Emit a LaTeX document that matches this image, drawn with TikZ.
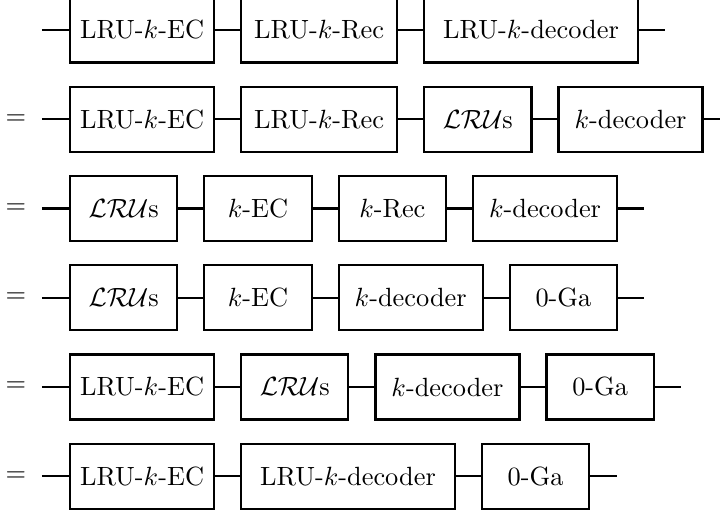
\documentclass[tikz,border=0pt]{standalone}
\usepackage{amsmath,amssymb}
\usepackage{tikz}
\usetikzlibrary{positioning}
\tikzset{
  blk/.style={draw,thick,minimum height=0.867cm,inner sep=0pt},
  wS/.style={blk,minimum width=1.43cm},
  wM/.style={blk,minimum width=1.92cm},
  wR/.style={blk,minimum width=2.08cm},
  wL/.style={blk,minimum width=2.85cm},
  wire/.style={thick}
}
\newcommand{\LRUs}{$\mathcal{LRU}$s}

\begin{document}
\begin{tikzpicture}[node distance=0.333cm]
    \useasboundingbox (0,0) rectangle (9.6,-6.827);

    % equality signs in front of rows 2..6
    \foreach \i in {2,...,6}{
      \node (eq\i) at (0.21,{-0.4-1.19*(\i-1)}) {$=$};
    }

    % row 1
    \coordinate (r1s) at (0.56,-0.4);
    \node[wM,right=0.36cm of r1s] (r1a) {LRU-$k$-EC};
    \node[wR,right=of r1a] (r1b) {LRU-$k$-Rec};
    \node[wL,right=of r1b] (r1c) {LRU-$k$-decoder};
    \coordinate[right=0.35cm of r1c] (r1e);
    \draw[wire] (r1s) -- (r1a) -- (r1b) -- (r1c) -- (r1e);

    % row 2
    \coordinate (r2s) at (0.56,-1.59);
    \node[wM,right=0.36cm of r2s] (r2a) {LRU-$k$-EC};
    \node[wR,right=of r2a] (r2b) {LRU-$k$-Rec};
    \node[wS,right=of r2b] (r2c) {\LRUs};
    \node[wM,right=of r2c] (r2d) {$k$-decoder};
    \coordinate[right=0.35cm of r2d] (r2e);
    \draw[wire] (r2s) -- (r2a) -- (r2b) -- (r2c) -- (r2d) -- (r2e);

    % row 3
    \coordinate (r3s) at (0.56,-2.78);
    \node[wS,right=0.36cm of r3s] (r3a) {\LRUs};
    \node[wS,right=of r3a] (r3b) {$k$-EC};
    \node[wS,right=of r3b] (r3c) {$k$-Rec};
    \node[wM,right=of r3c] (r3d) {$k$-decoder};
    \coordinate[right=0.35cm of r3d] (r3e);
    \draw[wire] (r3s) -- (r3a) -- (r3b) -- (r3c) -- (r3d) -- (r3e);

    % row 4
    \coordinate (r4s) at (0.56,-3.97);
    \node[wS,right=0.36cm of r4s] (r4a) {\LRUs};
    \node[wS,right=of r4a] (r4b) {$k$-EC};
    \node[wM,right=of r4b] (r4c) {$k$-decoder};
    \node[wS,right=of r4c] (r4d) {0-Ga};
    \coordinate[right=0.35cm of r4d] (r4e);
    \draw[wire] (r4s) -- (r4a) -- (r4b) -- (r4c) -- (r4d) -- (r4e);

    % row 5
    \coordinate (r5s) at (0.56,-5.16);
    \node[wM,right=0.36cm of r5s] (r5a) {LRU-$k$-EC};
    \node[wS,right=of r5a] (r5b) {\LRUs};
    \node[wM,right=of r5b] (r5c) {$k$-decoder};
    \node[wS,right=of r5c] (r5d) {0-Ga};
    \coordinate[right=0.35cm of r5d] (r5e);
    \draw[wire] (r5s) -- (r5a) -- (r5b) -- (r5c) -- (r5d) -- (r5e);

    % row 6
    \coordinate (r6s) at (0.56,-6.35);
    \node[wM,right=0.36cm of r6s] (r6a) {LRU-$k$-EC};
    \node[wL,right=of r6a] (r6b) {LRU-$k$-decoder};
    \node[wS,right=of r6b] (r6c) {0-Ga};
    \coordinate[right=0.35cm of r6c] (r6e);
    \draw[wire] (r6s) -- (r6a) -- (r6b) -- (r6c) -- (r6e);
  \end{tikzpicture}
\end{document}
